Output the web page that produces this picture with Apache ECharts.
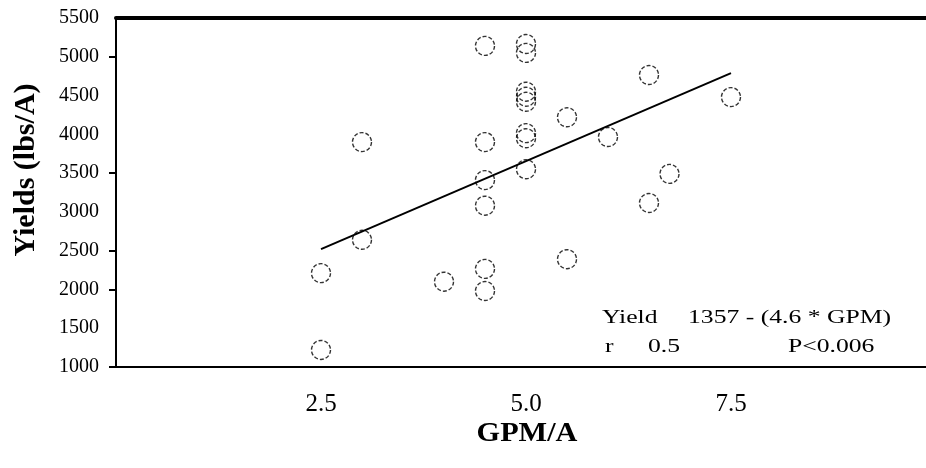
<!DOCTYPE html>
<html>
<head>
<meta charset="utf-8">
<script src="https://cdn.jsdelivr.net/npm/echarts@6/dist/echarts.min.js"></script>
<style>
html,body{margin:0;padding:0;background:#fff;}
#chart{width:926px;height:468px;}
</style>
</head>
<body>
<div id="chart"></div>
<script>
// Data
var gpm = [2.5, 2.5, 3.0, 3.0, 4.0, 4.5, 4.5, 4.5, 4.5, 4.5, 4.5, 5.0, 5.0, 5.0, 5.0, 5.0, 5.0, 5.0, 5.0, 5.5, 5.5, 6.0, 6.5, 6.5, 6.75, 7.5];
var yields = [1220, 2210, 2640, 3900, 2100, 1980, 2265, 3080, 3410, 3900, 5140, 5165, 5050, 4550, 4485, 4420, 4015, 3950, 3550, 4220, 2390, 3965, 4765, 3115, 3490, 4480];
var fitX = [2.5, 7.5];
var fitY = [2520, 4790];
var yTicks = [1000, 1500, 2000, 2500, 3000, 3500, 4000, 4500, 5000, 5500];
var yTickMarks = [1000, 2000, 2500, 3500, 5000];
var xTicks = [2.5, 5.0, 7.5];
var xTitle = 'GPM/A';
var yTitle = 'Yields (lbs/A)';
var noteYield = 'Yield';
var noteEq = '1357 - (4.6 * GPM)';
var noteR = 'r';
var noteRVal = '0.5';
var noteP = 'P<0.006';

var points = gpm.map(function (x, i) { return [x, yields[i]]; });
var fitLine = fitX.map(function (x, i) { return [x, fitY[i]]; });

var chart = echarts.init(document.getElementById('chart'), null, {renderer: 'canvas'});
var serif = '"Liberation Serif", "Times New Roman", serif';
function note(text, x, y) {
  return {type: 'text', x: x, y: y, scaleX: 1.35, scaleY: 1,
    style: {text: text, fontFamily: serif, fontSize: 19, fill: '#000', align: 'left', verticalAlign: 'top'}};
}
chart.setOption({
  animation: false,
  backgroundColor: '#ffffff',
  grid: {left: 116, top: 18, right: 0, bottom: 101},
  xAxis: [{
    type: 'value', min: 0, max: 9.878, interval: 2.5,
    axisLine: {show: true, lineStyle: {color: '#000', width: 2}},
    axisTick: {show: false},
    splitLine: {show: false},
    axisLabel: {
      margin: 25, fontFamily: serif, fontSize: 25, color: '#000', showMaxLabel: false,
      formatter: function (v) { return xTicks.indexOf(v) >= 0 ? v.toFixed(1) : ''; }
    }
  }, {
    type: 'value', min: 0, max: 9.878, position: 'top',
    axisLine: {show: true, lineStyle: {color: '#000', width: 4}},
    axisTick: {show: false}, axisLabel: {show: false}, splitLine: {show: false}
  }],
  yAxis: [{
    type: 'value', min: 1000, max: 5500, interval: 500,
    axisLine: {show: true, lineStyle: {color: '#000', width: 2}},
    axisTick: {show: false},
    splitLine: {show: false},
    axisLabel: {
      margin: 17, fontFamily: serif, fontSize: 20, color: '#000',
      formatter: function (v) { return yTicks.indexOf(v) >= 0 ? String(v) : ''; }
    }
  }, {
    type: 'value', min: 1000, max: 5500, position: 'left',
    axisLine: {show: false},
    axisLabel: {show: false},
    splitLine: {show: false},
    axisTick: {
      show: true, inside: false, length: 7, lineStyle: {color: '#000', width: 2},
      customValues: yTickMarks
    }
  }],
  series: [{
    type: 'scatter',
    data: points,
    symbol: 'circle',
    symbolSize: 19,
    itemStyle: {color: 'rgba(0,0,0,0)', borderColor: '#000', borderWidth: 1.4, borderType: [4, 2]},
    z: 3
  }, {
    type: 'line',
    data: fitLine,
    symbol: 'none',
    lineStyle: {color: '#000', width: 2},
    z: 2
  }],
  graphic: [
    {type: 'text', x: 527, y: 434, scaleX: 1.08,
      style: {text: xTitle, fontFamily: serif, fontWeight: 'bold', fontSize: 28, fill: '#000', align: 'center', verticalAlign: 'middle'}},
    {type: 'text', x: 26, y: 170, rotation: Math.PI / 2,
      style: {text: yTitle, fontFamily: serif, fontWeight: 'bold', fontSize: 30, fill: '#000', align: 'center', verticalAlign: 'middle'}},
    note(noteYield, 602, 309),
    note(noteEq, 688, 309),
    note(noteR, 605, 338),
    note(noteRVal, 648, 338),
    note(noteP, 788, 338)
  ]
});
</script>
</body>
</html>
